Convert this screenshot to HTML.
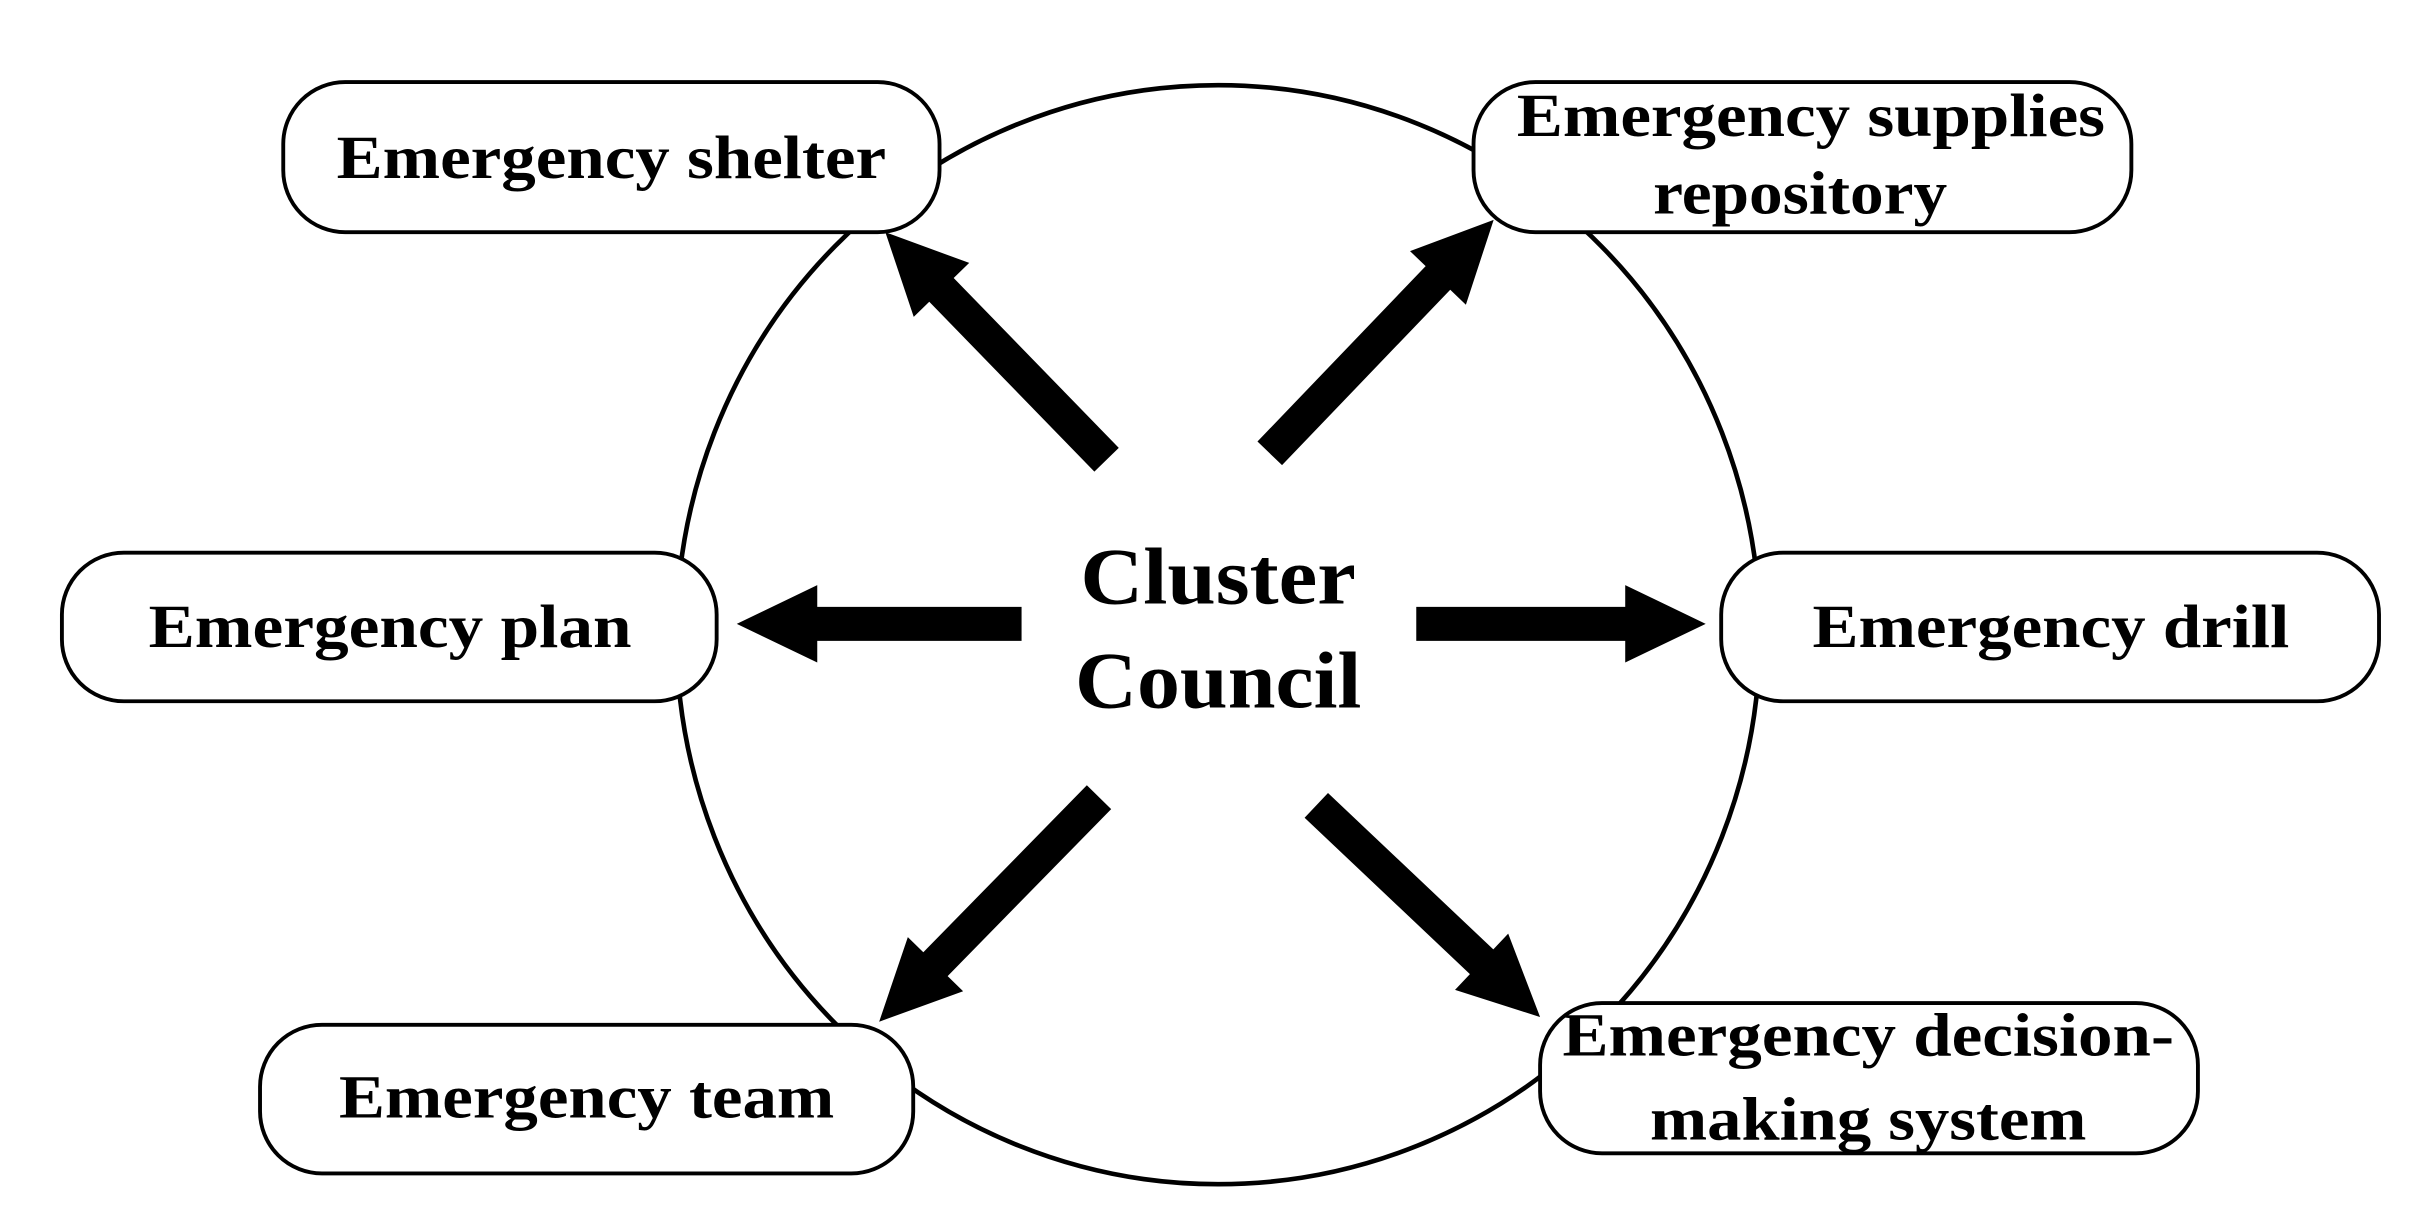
<!DOCTYPE html>
<html><head><meta charset="utf-8"><style>
html,body{margin:0;padding:0;background:#fff;}
svg{display:block;}
text{font-family:"Liberation Serif",serif;font-weight:bold;fill:#000;}
</style></head><body>
<svg width="2427" height="1209" viewBox="0 0 1568 781" preserveAspectRatio="none" xmlns="http://www.w3.org/2000/svg">
<ellipse cx="787" cy="410" rx="350" ry="355" fill="#fff" stroke="#000" stroke-width="3"/>
<g fill="#fff" stroke="#000" stroke-width="2.5">
<rect x="183" y="53" width="424" height="97" rx="40"/>
<rect x="952" y="53" width="425" height="97" rx="40"/>
<rect x="40" y="357" width="423" height="96" rx="40"/>
<rect x="1112" y="357" width="425" height="96" rx="40"/>
<rect x="168" y="662" width="422" height="96" rx="40"/>
<rect x="995" y="648" width="425" height="97" rx="40"/>
</g>
<g font-size="40">
<text x="395" y="115" text-anchor="middle" textLength="355" lengthAdjust="spacingAndGlyphs">Emergency shelter</text>
<text x="1170" y="88" text-anchor="middle" textLength="380" lengthAdjust="spacingAndGlyphs">Emergency supplies</text>
<text x="1163" y="138" text-anchor="middle" textLength="190" lengthAdjust="spacingAndGlyphs">repository</text>
<text x="252" y="418" text-anchor="middle" textLength="312" lengthAdjust="spacingAndGlyphs">Emergency plan</text>
<text x="1325" y="418" text-anchor="middle" textLength="308" lengthAdjust="spacingAndGlyphs">Emergency drill</text>
<text x="379" y="722" text-anchor="middle" textLength="320" lengthAdjust="spacingAndGlyphs">Emergency team</text>
<text x="1207" y="682" text-anchor="middle" textLength="395" lengthAdjust="spacingAndGlyphs">Emergency decision-</text>
<text x="1207" y="736" text-anchor="middle" textLength="282" lengthAdjust="spacingAndGlyphs">making system</text>
</g>
<g font-size="52">
<text x="787" y="390" text-anchor="middle" textLength="178" lengthAdjust="spacingAndGlyphs">Cluster</text>
<text x="787" y="457" text-anchor="middle" textLength="185" lengthAdjust="spacingAndGlyphs">Council</text>
</g>
<defs>
<polygon id="arr" points="0,-11 -48,-11 -48,-26 0,0 -48,26 -48,11 0,11" />
</defs>
<g fill="#000">
<!-- arrow helper: shaft from origin to tip -->
<g transform="translate(476,403) rotate(180)"><polygon points="0,0 -52,-25 -52,-11 -184,-11 -184,11 -52,11 -52,25"/></g>
<g transform="translate(1102,403)"><polygon points="0,0 -52,-25 -52,-11 -187,-11 -187,11 -52,11 -52,25"/></g>
<g transform="translate(572,150) rotate(225.8)"><polygon points="0,0 -52,-25 -52,-11 -205,-11 -205,11 -52,11 -52,25"/></g>
<g transform="translate(965,142) rotate(-46.2)"><polygon points="0,0 -52,-25 -52,-11 -209,-11 -209,11 -52,11 -52,25"/></g>
<g transform="translate(568,660) rotate(134.4)"><polygon points="0,0 -52,-25 -52,-11 -203,-11 -203,11 -52,11 -52,25"/></g>
<g transform="translate(995,657) rotate(43.4)"><polygon points="0,0 -52,-25 -52,-11 -199,-11 -199,11 -52,11 -52,25"/></g>
</g>
</svg>
</body></html>
